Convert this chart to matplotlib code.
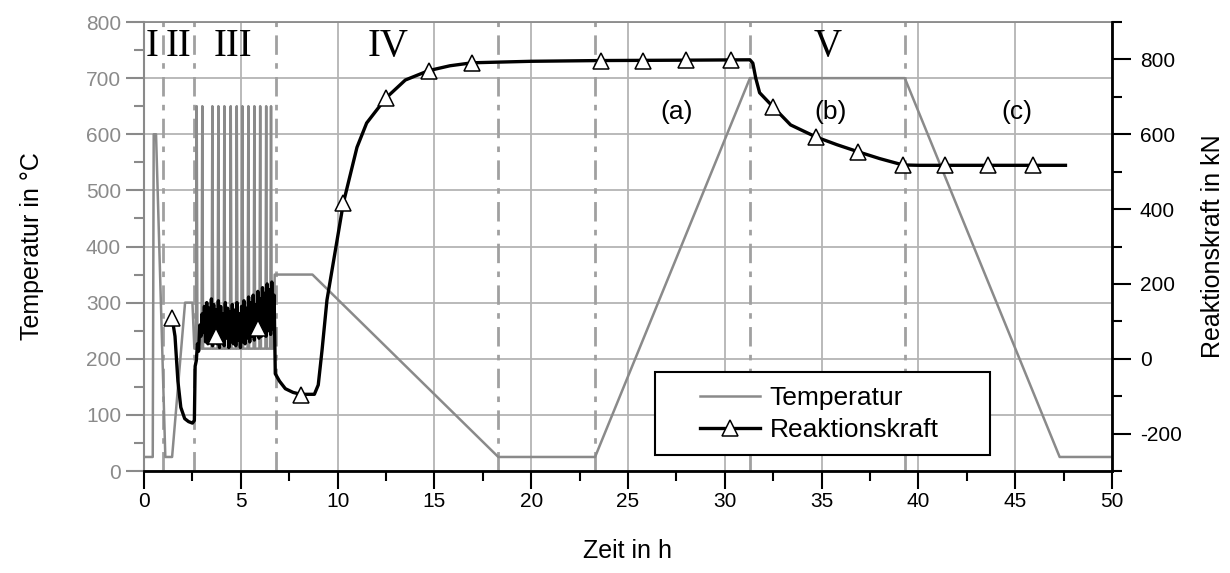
# %% imports
import numpy as np
import matplotlib
matplotlib.use('Agg')
import matplotlib.pyplot as plt
from matplotlib.lines import Line2D
from matplotlib.patches import Rectangle

plt.rcParams['font.family'] = ['Liberation Sans', 'DejaVu Sans']
plt.rcParams['axes.unicode_minus'] = False

# %% data
# temperature program (h, degC)
temp_t = [0.0, 0.45, 0.5, 0.62, 1.1, 1.45, 2.12, 2.5, 2.6]
temp_c = [25, 25, 600, 600, 25, 25, 300, 300, 218]
# cycling in phase III: peak times, peak and base temperature
spike_t = [2.72, 3.01, 3.53, 3.84, 4.15, 4.48, 4.79, 5.08, 5.39, 5.70, 6.00, 6.31, 6.56]
spike_top = 650
spike_base = 218
temp2_t = [6.70, 6.75, 8.7, 18.3, 23.3, 31.3, 39.3, 47.3, 50.0]
temp2_c = [218, 350, 350, 25, 25, 700, 700, 25, 25]

# reaction force (h, kN)
force_t = [1.45, 1.6, 1.75, 1.9, 2.1, 2.3, 2.5, 2.6, 2.64]
force_kn = [110, 60, -60, -130, -160, -168, -172, -165, -20]
# phase III, noisy band sampled every 0.06 h from 2.70 h
band_kn = [-5, 40, 20, 90, 60, 120, 70, 140,
           45, 150, 40, 135, 55, 160, 35, 145,
           50, 130, 40, 155, 30, 140, 45, 120,
           35, 150, 55, 135, 30, 125, 45, 145,
           40, 130, 35, 150, 50, 120, 30, 140,
           45, 155, 40, 135, 55, 165, 45, 150,
           60, 170, 50, 145, 65, 180, 55, 160,
           60, 190, 70, 175, 60, 200, 75, 185,
           65, 205, 80, 170]
force2_t = [6.78, 7.0, 7.3, 7.7, 8.1, 8.8, 9.0, 9.2, 9.45, 10.3, 11.0, 11.5, 12.5, 13.5,
            14.7, 15.8, 16.95, 20.0, 23.6, 28.0, 31.3, 31.45, 31.6, 31.8, 32.5, 33.4,
            34.7, 35.8, 36.9, 38.0, 39.2, 40.0, 47.6]
force2_kn = [-40, -60, -80, -90, -95, -95, -70, 25, 157, 417, 565, 630, 697, 745,
             770, 783, 791, 795, 797, 798, 799, 790, 750, 711, 673, 625,
             593, 572, 553, 535, 518, 517, 517]
marker_t = [1.45, 3.7, 5.9, 8.1, 10.3, 12.5, 14.7, 16.95, 23.6, 25.8, 28.0, 30.3,
            32.5, 34.7, 36.9, 39.2, 41.4, 43.6, 45.9]
marker_kn = [110, 61, 82, -97, 417, 697, 770, 791, 797, 797, 798, 798,
             673, 593, 553, 518, 517, 517, 517]

phase_lines = [1.0, 2.6, 6.8, 18.3, 23.3, 31.3, 39.3]
phase_labels = ['I', 'II', 'III', 'IV', 'V']
phase_x = [0.42, 1.78, 4.6, 12.6, 35.3]
sub_labels = ['(a)', '(b)', '(c)']
sub_x = [27.5, 35.45, 45.1]

# %% assemble series
t_all = list(temp_t)
c_all = list(temp_c)
for p in spike_t:
    t_all += [p - 0.04, p, p + 0.04]
    c_all += [spike_base, spike_top, spike_base]
t_all += temp2_t
c_all += temp2_c

band_t = 2.70 + 0.06 * np.arange(len(band_kn))
f_t = np.concatenate([force_t, band_t, force2_t])
f_kn = np.concatenate([force_kn, band_kn, force2_kn])

# %% plot
grey = '#8a8a8a'
fig = plt.figure(figsize=(12.3, 5.73), dpi=100)
ax = fig.add_axes([0.1171, 0.178, 0.7869, 0.7836])
ax2 = ax.twinx()

ax.plot(t_all, c_all, color=grey, lw=1.8, zorder=3)
for x in phase_lines:
    ax.axvline(x, color='#a0a0a0', lw=2, ls=(0, (7, 3, 2, 3)), zorder=2)

ax.set_xlim(0, 50)
ax.set_ylim(0, 800)
ax.set_xticks(np.arange(0, 51, 5))
ax.set_xticks(np.arange(0, 50, 2.5), minor=True)
ax.set_yticks(np.arange(0, 801, 100))
ax.set_yticks(np.arange(50, 800, 100), minor=True)
ax.grid(True, which='major', color='#b4b4b4', lw=1.3)
ax.set_axisbelow(True)
ax.tick_params(axis='x', which='major', length=13, width=1.5, color='black', labelsize=15, pad=2)
ax.tick_params(axis='x', which='minor', length=7, width=1.5, color='black')
ax.tick_params(axis='y', which='major', length=13, width=1.5, color=grey, labelcolor=grey, labelsize=15)
ax.tick_params(axis='y', which='minor', length=7, width=1.5, color=grey)
ax.spines['left'].set_color(grey)
ax.spines['left'].set_linewidth(1.5)
ax.spines['top'].set_color(grey)
ax.spines['top'].set_linewidth(1.3)
ax.spines['bottom'].set_linewidth(2)
ax.set_xlabel('Zeit in h', fontsize=18, labelpad=20)
ax.set_ylabel('Temperatur in °C', fontsize=18, labelpad=30)

for lab, x in zip(phase_labels, phase_x):
    ax.text(x, 757, lab, family='Liberation Serif', fontsize=28, ha='center', va='center', zorder=5)
for lab, x in zip(sub_labels, sub_x):
    ax.text(x, 640, lab, fontsize=19, ha='center', va='center', zorder=5)

ax2.plot(f_t, f_kn, color='black', lw=2.4, zorder=3)
ax2.plot(marker_t, marker_kn, ls='none', marker='^', ms=12, mfc='white', mec='black', mew=1.1, zorder=4)
ax2.set_ylim(-300, 900)
ax2.set_yticks(np.arange(-200, 801, 200))
ax2.set_yticks(np.arange(-300, 901, 200), minor=True)
ax2.tick_params(axis='y', which='major', length=14, width=1.5, color='black', labelsize=15, pad=6)
ax2.tick_params(axis='y', which='minor', length=7, width=1.5, color='black')
ax2.spines['right'].set_linewidth(2)
ax2.spines['left'].set_visible(False)
ax2.spines['top'].set_visible(False)
ax2.spines['bottom'].set_visible(False)
ax2.set_ylabel('Reaktionskraft in kN', fontsize=18, labelpad=14)

# legend with own frame
ax2.add_patch(Rectangle((0.528, 0.036), 0.346, 0.184, transform=ax2.transAxes,
                        facecolor='white', edgecolor='black', lw=1.5, zorder=10))
handles = [Line2D([], [], color=grey, lw=1.8),
           Line2D([], [], color='black', lw=2.4, marker='^', ms=12, mfc='white', mec='black', mew=1.1)]
leg = ax2.legend(handles, ['Temperatur', 'Reaktionskraft'], loc='center left',
                 bbox_to_anchor=(0.574, 0.127), frameon=False, fontsize=19,
                 borderpad=0, borderaxespad=0, handlelength=2.3, handletextpad=0.35,
                 labelspacing=0.3)
leg.set_zorder(11)

fig.savefig('out.png', dpi=100)
